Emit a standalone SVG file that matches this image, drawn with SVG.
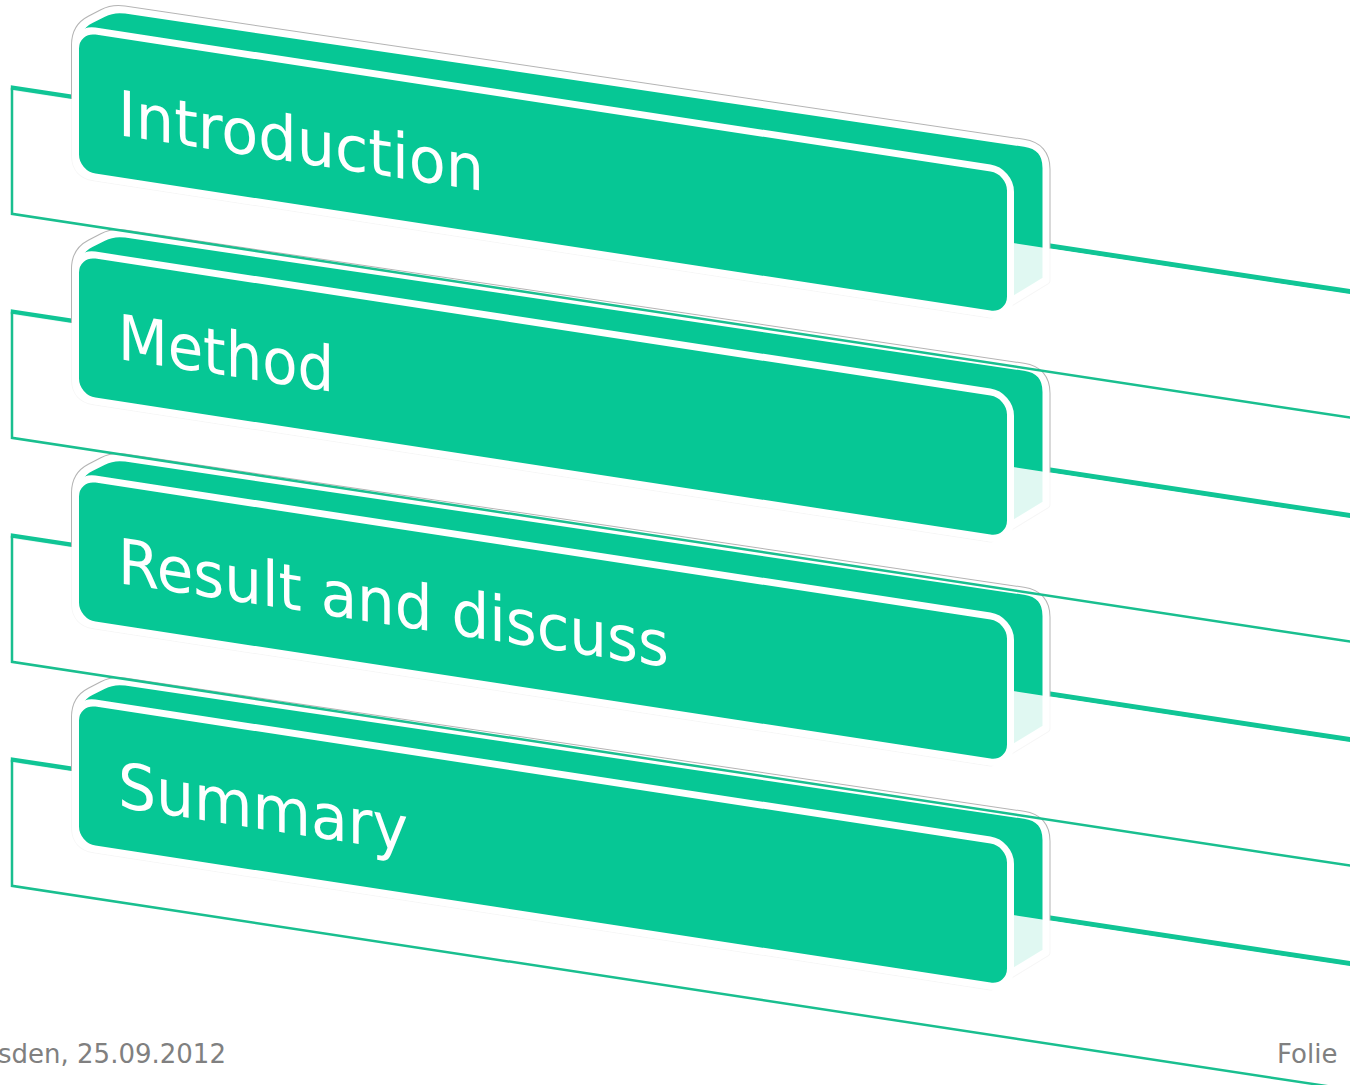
<svg xmlns="http://www.w3.org/2000/svg" xmlns:xlink="http://www.w3.org/1999/xlink" width="1350" height="1085" viewBox="0 0 1350 1085">
<defs>
<style>
.slabtop{fill:none;stroke:#10c595;stroke-width:5}
.slabbody{fill:#ffffff;fill-opacity:0.88;stroke:none}
.slabedge{fill:none;stroke:#19bf8f;stroke-width:2.5}
.outl{fill:none;stroke:#b4b4b4;stroke-width:9;stroke-linejoin:round}
.outw{fill:#06c795;stroke:#ffffff;stroke-width:7;stroke-linejoin:round}
.front{fill:#06c795;stroke:#ffffff;stroke-width:7}
.lbl{font-family:"DejaVu Sans",Verdana,sans-serif;font-size:63px;fill:#ffffff}
.foot{font-family:"DejaVu Sans",Verdana,sans-serif;font-size:26px;fill:#808080}
</style>
<path id="sil" d="M 93.5,162.5 Q 75.5,162.5 75.5,144.5 L 75.5,34 Q 75.5,16 90.5,6 L 103,-2.3 Q 113,-9 125,-9.06 L 1024,-13.4 Q 1046,-13.5 1046,8.5 L 1046,120 L 1012,146 L 990,162.5 Z"/>
<g id="tab">
<path class="slabtop" d="M 10.8,86 L 1360,85"/>
<use xlink:href="#sil" class="outl"/>
<use xlink:href="#sil" class="outw"/>
<rect class="slabbody" x="12" y="88" width="1348" height="123"/>
<rect class="front" x="75.5" y="16.5" width="935" height="146" rx="20" ry="20"/>
</g>
<path id="edge" class="slabedge" d="M 1360,211 L 12,212 L 12,86"/>
</defs>
<g id="connectors"/>
<g id="node-introduction" transform="translate(0,0) skewY(8.7)">
<use xlink:href="#tab"/>
<text class="lbl" x="118" y="117" textLength="366" lengthAdjust="spacingAndGlyphs">Introduction</text>
</g>
<g id="node-method" transform="translate(0,224) skewY(8.7)">
<use xlink:href="#tab"/>
<text class="lbl" x="118" y="117" textLength="216" lengthAdjust="spacingAndGlyphs">Method</text>
</g>
<g id="node-result" transform="translate(0,448) skewY(8.7)">
<use xlink:href="#tab"/>
<text class="lbl" x="118" y="117" textLength="551" lengthAdjust="spacingAndGlyphs">Result and discuss</text>
</g>
<g id="node-summary" transform="translate(0,672) skewY(8.7)">
<use xlink:href="#tab"/>
<text class="lbl" x="118" y="117" textLength="290" lengthAdjust="spacingAndGlyphs">Summary</text>
</g>
<g id="slab-edges">
<use xlink:href="#edge" transform="translate(0,0) skewY(8.7)"/>
<use xlink:href="#edge" transform="translate(0,224) skewY(8.7)"/>
<use xlink:href="#edge" transform="translate(0,448) skewY(8.7)"/>
<use xlink:href="#edge" transform="translate(0,672) skewY(8.7)"/>
</g>
<g id="footer">
<text class="foot" x="-2" y="1063">sden, 25.09.2012</text>
<text class="foot" x="1277" y="1063">Folie</text>
</g>
</svg>
